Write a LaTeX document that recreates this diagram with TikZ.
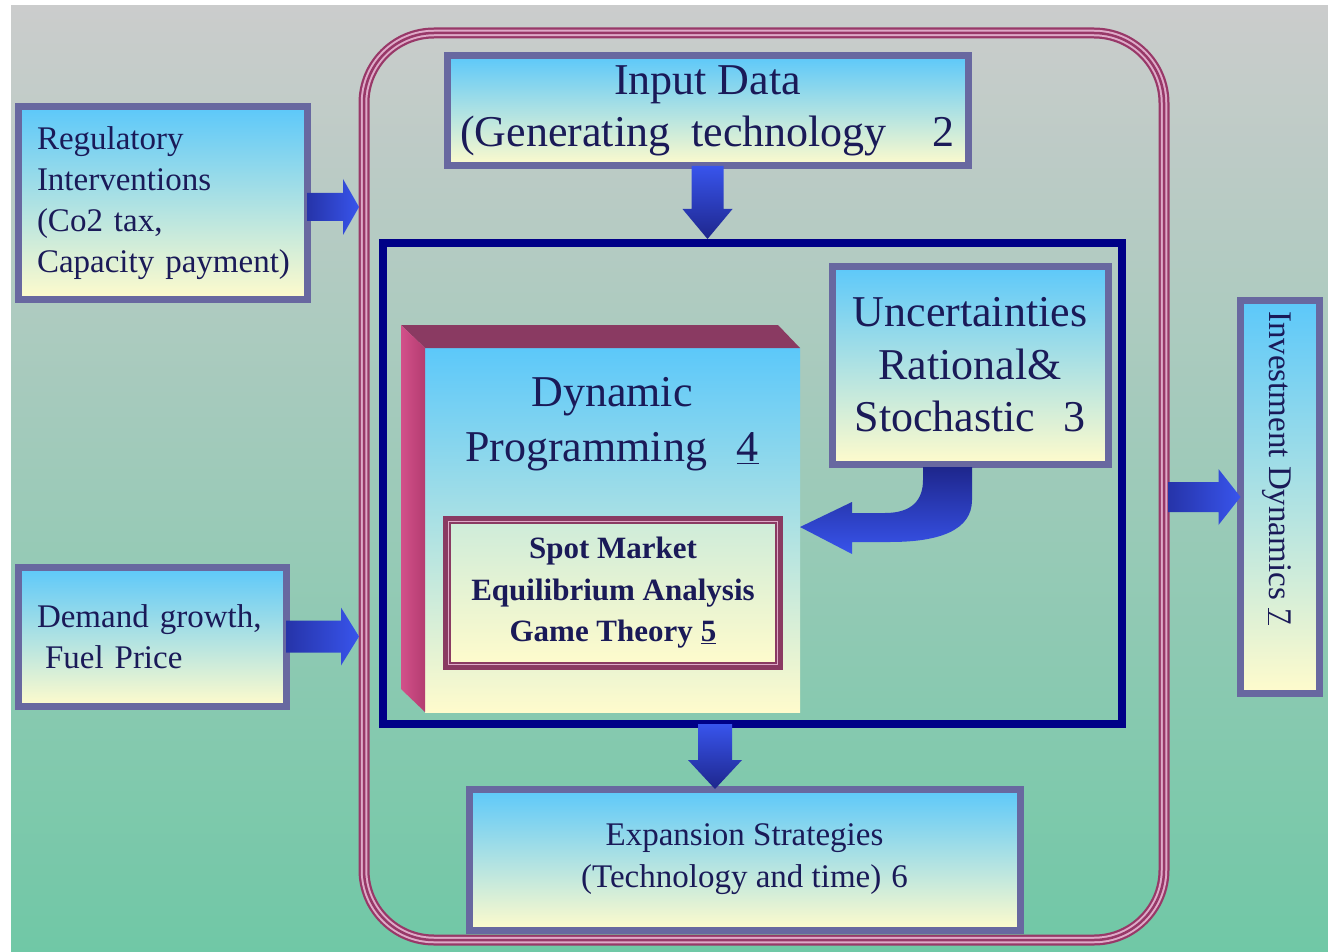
\documentclass[tikz,border=0pt]{standalone}
\usepackage{fontspec}
\setmainfont{Liberation Serif}
\usetikzlibrary{calc}
\definecolor{bgtop}{RGB}{203,204,204}
\definecolor{bgmid}{RGB}{165,200,182}
\definecolor{bgbot}{RGB}{112,200,166}
\definecolor{skyb}{RGB}{92,200,250}
\definecolor{paley}{RGB}{255,251,204}
\definecolor{boxline}{RGB}{104,104,160}
\definecolor{navyline}{RGB}{0,0,135}
\definecolor{frameDark}{RGB}{152,56,104}
\definecolor{framePink}{RGB}{222,170,200}
\definecolor{maroon}{RGB}{138,58,98}
\definecolor{sidepinkL}{RGB}{210,80,138}
\definecolor{sidepinkD}{RGB}{180,60,112}
\definecolor{txt}{RGB}{26,26,88}
\definecolor{arrL}{RGB}{56,84,236}
\definecolor{arrD}{RGB}{30,38,140}
\tikzset{
  gbox/.style={draw=boxline, line width=7pt, top color=skyb, bottom color=paley,
    outer sep=0pt, inner sep=0pt, text=txt},
  harr/.style={left color=arrD!70!arrL, right color=arrL},
  varr/.style={top color=arrL, bottom color=arrD},
  f33/.style={font=\fontsize{33}{41}\selectfont},
  f44/.style={font=\fontsize{44}{53}\selectfont},
}
\newcommand\hblock[5]{%
  \shade[harr] ($(#1)+(0,-#3)$) -- ($(#2)+(-#5,-#3)$) -- ($(#2)+(-#5,-#4)$) -- (#2)
    -- ($(#2)+(-#5,#4)$) -- ($(#2)+(-#5,#3)$) -- ($(#1)+(0,#3)$) -- cycle;}
\newcommand\vblock[5]{%
  \shade[varr] ($(#1)+(-#3,0)$) -- ($(#2)+(-#3,-#5)$) -- ($(#2)+(-#4,-#5)$) -- (#2)
    -- ($(#2)+(#4,-#5)$) -- ($(#2)+(#3,-#5)$) -- ($(#1)+(#3,0)$) -- cycle;}
\begin{document}
\begin{tikzpicture}[x=1pt,y=-1pt]
\useasboundingbox (0,0) rectangle (1328,952);
\fill[white] (0,0) rectangle (1328,952);
\shade[top color=bgtop, middle color=bgmid, bottom color=bgbot] (11,6) rectangle (1328,952);

% outer frame
\node[draw=frameDark, line width=11pt, rounded corners=70pt, minimum width=800pt,
  minimum height=907pt, outer sep=0pt, inner sep=0pt] (frame) at (764,486.5) {};
\draw[framePink, line width=6.5pt, rounded corners=70pt] (frame.south west) rectangle (frame.north east);
\draw[frameDark, line width=2.5pt, rounded corners=70pt] (frame.south west) rectangle (frame.north east);

% navy core
\node[draw=navyline, line width=8pt, minimum width=739pt, minimum height=481pt,
  outer sep=0pt, inner sep=0pt] (core) at (752.5,483.5) {};

% side boxes
\node[gbox, f33, minimum width=289pt, minimum height=192pt, text width=251pt, align=left]
  (reg) at (162.5,203) {\mbox{Regulatory}\\\mbox{Interventions}\\\mbox{(Co2 tax,}\\\mbox{Capacity payment)}};
\node[gbox, f33, minimum width=268pt, minimum height=139pt, text width=230pt, align=left]
  (dem) at (152,636.5) {\mbox{Demand growth,}\\\hspace*{8pt}Fuel Price};
\node[gbox, f44, minimum width=521pt, minimum height=110pt, align=center,
  font=\fontsize{44}{52}\selectfont]
  (input) at (707.5,111) {Input Data\\(Generating\hspace{21pt}technology\hspace{46pt}2};
\node[gbox, f44, minimum width=276pt, minimum height=198pt, align=center,
  font=\fontsize{44}{52.5}\selectfont]
  (unc) at (970,365) {Uncertainties\\Rational\&\\Stochastic\hspace{28pt}3};
\node[gbox, f33, minimum width=551pt, minimum height=141pt, align=center,
  font=\fontsize{33}{42}\selectfont]
  (exp) at (744.5,859.5) {Expansion Strategies\\(Technology and time)\hspace{10pt}6};
\node[gbox, minimum width=79pt, minimum height=393pt] (inv) at (1280,497) {};
\node[rotate=-90, anchor=west, text=txt, inner sep=0pt, font=\fontsize{33}{40}\selectfont]
  (invtxt) at (1277,311) {Investment Dynamics \underline{7}};

% 3D dynamic programming block
\node[top color=skyb, bottom color=paley, minimum width=375pt, minimum height=364pt,
  outer sep=0pt, inner sep=0pt] (dp) at (612.5,530) {};
\fill[maroon] (dp.north west) -- ($(dp.north west)+(-24,-23)$) -- ($(dp.north east)+(-22,-23)$)
  -- (dp.north east) -- cycle;
\shade[left color=sidepinkL, right color=sidepinkD] (dp.north west) -- ($(dp.north west)+(-24,-23)$)
  -- ($(dp.south west)+(-24,-23)$) -- (dp.south west) -- cycle;
\node[text=txt, align=center, inner sep=0pt, font=\fontsize{44}{55}\selectfont]
  (dptxt) at (612,424) {Dynamic\\Programming\hspace{30pt}\underline{4}};

% spot market box
\node[draw=maroon, line width=8pt, top color=skyb!30!paley, bottom color=paley,
  minimum width=332pt, minimum height=146pt, outer sep=0pt, inner sep=0pt, text=txt,
  align=center, font=\bfseries\fontsize{31}{41.5}\selectfont]
  (spot) at (613,593) {Spot Market\\Equilibrium Analysis\\Game Theory\hspace{8pt}\underline{5}};
\draw[framePink, line width=1.5pt] ($(spot.south west)+(1.5,-1.5)$) rectangle ($(spot.north east)+(-1.5,1.5)$);

% block arrows
\coordinate (r0) at ($(reg.east)+(0,4)$);
\coordinate (r1) at ($(r0 -| frame.west)+(-5,0)$);
\hblock{r0}{r1}{14}{28}{16}
\coordinate (d1) at ($(dem.east -| frame.west)+(-5,0)$);
\hblock{dem.east}{d1}{16}{29}{18}
\coordinate (v1) at ($(input.south |- core.north)+(0,-4)$);
\vblock{input.south}{v1}{16}{25}{30}
\coordinate (ex) at (715,0);
\coordinate (e0) at (core.south -| ex);
\coordinate (e1) at (exp.north -| ex);
\vblock{e0}{e1}{17}{27}{29}
\coordinate (i0) at ($(inv.west -| frame.east)+(4,0)$);
\hblock{i0}{inv.west}{15}{28}{22}

% curved arrow from uncertainties to dynamic programming
\coordinate (ct) at (800,527);
\shade[top color=arrD, bottom color=arrL]
  (972,467) -- (972,500) .. controls (972,530) and (940,542) .. (890,542) -- (852,542)
  -- (852,554) -- (ct) -- (852,502) -- (852,513) -- (885,513)
  .. controls (912,513) and (923,500) .. (923,480) -- (923,467) -- cycle;
\end{tikzpicture}
\end{document}
